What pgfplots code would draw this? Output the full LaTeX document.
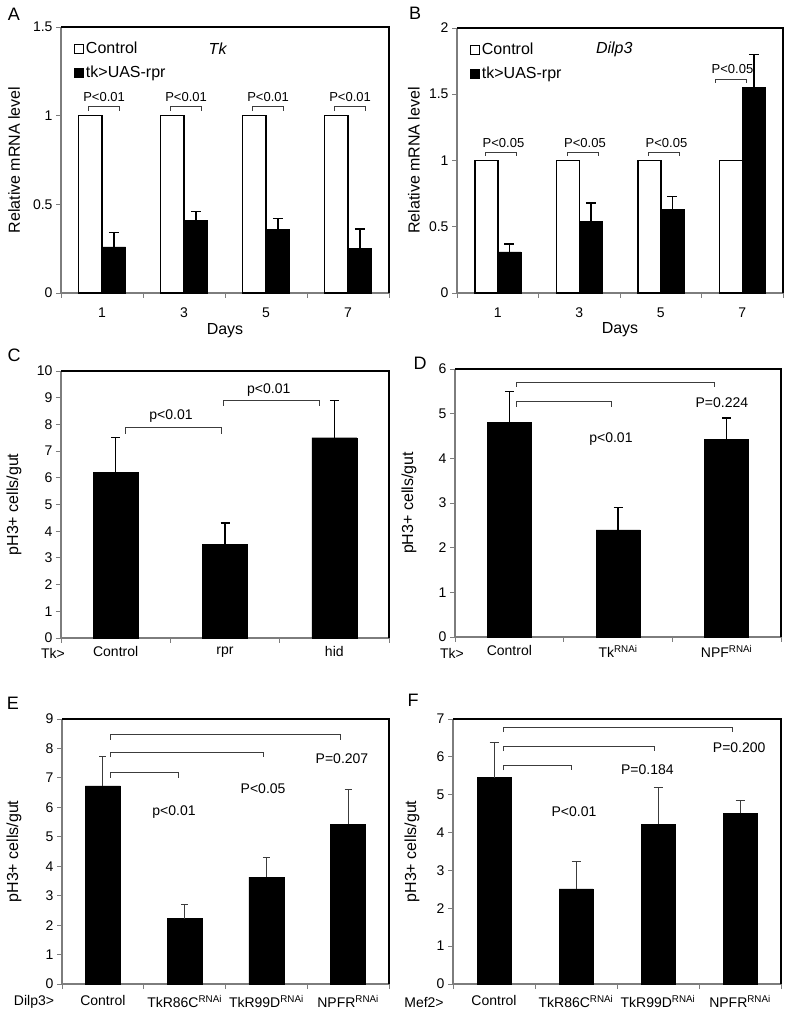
\documentclass[border=0pt]{standalone}
\usepackage{pgfplots}
\pgfplotsset{compat=1.18}
\usepackage{fontspec}
\setmainfont{Liberation Sans}
\definecolor{axgray}{RGB}{125,125,125}
\definecolor{brk}{RGB}{60,60,60}
\newcommand{\fs}[1]{\fontsize{#1}{#1}\selectfont}
\pgfplotsset{
 panel/.style={
   scale only axis, anchor=south west, clip=false,
   axis lines*=left,
   axis line style={draw=axgray, line width=1.2pt},
   tick align=outside,
   major tick length=5pt, minor tick length=5pt,
   ytick style={draw=axgray, line width=0.8pt},
   major x tick style={draw=none},
   minor x tick style={draw=axgray, line width=0.8pt},
   ymin=0, xmin=-0.5,
   tick label style={font=\fs{14}},
   /pgf/number format/assume math mode=true,
   label style={font=\fs{16}},
   ylabel style={anchor=center},
   after end axis/.code={\draw[black, line width=1.6pt] (rel axis cs:0,1) -- (rel axis cs:1,1) -- (rel axis cs:1,0);},
 },
 errb/.style={error bars/.cd, y dir=plus, y explicit,
   error bar style={line width=1.5pt, black},
   error mark options={rotate=90, mark size=#1, line width=1.5pt, black}},
 errg/.style={error bars/.cd, y dir=plus, y explicit,
   error bar style={line width=1pt, brk},
   error mark options={rotate=90, mark size=#1, line width=1pt, brk}},
 legend image code/.code={\draw[#1] (0pt,-4.5pt) rectangle (9pt,4.5pt);},
}
\newcommand{\brk}[4]{\draw[brk, line width=0.9pt] (axis cs:#1,#4) -- (axis cs:#1,#3) -- (axis cs:#2,#3) -- (axis cs:#2,#4);}
\begin{document}
\begin{tikzpicture}
\useasboundingbox (0,0) rectangle (788pt,1016pt);
% ---------------- A
\begin{axis}[panel, at={(61pt,723pt)}, width=328pt, height=266pt,
  xmax=3.5, ymax=1.5, ytick={0,0.5,1,1.5},
  xtick={0,1,2,3}, xticklabels={1,3,5,7}, minor xtick={-0.5,0.5,1.5,2.5,3.5},
  xticklabel style={yshift=-6pt},
  xlabel={Days}, xlabel style={at={(axis description cs:0.5,-0.14)}, anchor=center},
  ylabel={Relative mRNA level}, ylabel style={at={(axis description cs:-0.143,0.5)}},
  legend style={at={(0.035,0.955)}, anchor=north west, draw=none, fill=none, font=\fs{16}, row sep=7pt, inner sep=1pt},
  legend cell align=left]
\addlegendimage{fill=white, draw=black, line width=1.3pt}
\addlegendentry{Control}
\addlegendimage{fill=black, draw=black}
\addlegendentry{tk>UAS-rpr}
\addplot[ybar, bar width=23.5pt, bar shift=0pt, fill=white, draw=black, line width=1.5pt, forget plot]
  coordinates {(-0.1433,1) (0.8567,1) (1.8567,1) (2.8567,1)};
\addplot[ybar, bar width=23.5pt, bar shift=0pt, fill=black, draw=black, forget plot, errb=5pt]
  coordinates {(0.1433,0.26) +- (0,0.08) (1.1433,0.41) +- (0,0.05) (2.1433,0.36) +- (0,0.06) (3.1433,0.25) +- (0,0.11)};
\foreach \k in {0,1,2,3} {
  \edef\tmp{\noexpand\brk{\k-0.16}{\k+0.21}{1.05}{1.025}
  \noexpand\node[font=\noexpand\fs{13}] at (axis cs:\k+0.025,1.105) {P<0.01};}
  \tmp
}
\node[font=\fs{16}\itshape] at (axis cs:1.41,1.38) {Tk};
\end{axis}
% ---------------- B
\begin{axis}[panel, at={(457pt,723pt)}, width=326pt, height=265pt,
  xmax=3.5, ymax=2, ytick={0,0.5,1,1.5,2},
  xtick={0,1,2,3}, xticklabels={1,3,5,7}, minor xtick={-0.5,0.5,1.5,2.5,3.5},
  xticklabel style={yshift=-6pt},
  xlabel={Days}, xlabel style={at={(axis description cs:0.5,-0.14)}, anchor=center},
  ylabel={Relative mRNA level}, ylabel style={at={(axis description cs:-0.132,0.5)}},
  legend style={at={(0.035,0.955)}, anchor=north west, draw=none, fill=none, font=\fs{16}, row sep=7pt, inner sep=1pt},
  legend cell align=left]
\addlegendimage{fill=white, draw=black, line width=1.3pt}
\addlegendentry{Control}
\addlegendimage{fill=black, draw=black}
\addlegendentry{tk>UAS-rpr}
\addplot[ybar, bar width=23pt, bar shift=0pt, fill=white, draw=black, line width=1.5pt, forget plot]
  coordinates {(-0.1411,1) (0.8589,1) (1.8589,1) (2.8589,1)};
\addplot[ybar, bar width=23pt, bar shift=0pt, fill=black, draw=black, forget plot, errb=5pt]
  coordinates {(0.1411,0.31) +- (0,0.06) (1.1411,0.54) +- (0,0.14) (2.1411,0.63) +- (0,0.10) (3.1411,1.55) +- (0,0.25)};
\foreach \k in {0,1,2} {
  \edef\tmp{\noexpand\brk{\k-0.15}{\k+0.23}{1.064}{1.034}
  \noexpand\node[font=\noexpand\fs{13}] at (axis cs:\k+0.07,1.135) {P<0.05};}
  \tmp
}
\brk{2.67}{3.05}{1.615}{1.585}
\node[font=\fs{13}] at (axis cs:2.88,1.69) {P<0.05};
\node[font=\fs{16}\itshape] at (axis cs:1.43,1.84) {Dilp3};
\end{axis}
% ---------------- C
\begin{axis}[panel, at={(61pt,378pt)}, width=328pt, height=267pt,
  xmax=2.5, ymax=10, ytick={0,1,...,10},
  xtick={0,1,2}, xticklabels={Control,rpr,hid}, minor xtick={-0.5,0.5,1.5,2.5},
  xticklabel style={yshift=0pt},
  ylabel={pH3+ cells/gut}, ylabel style={at={(axis description cs:-0.143,0.5)}}]
\addplot[ybar, bar width=45pt, bar shift=0pt, fill=black, draw=black, errb=4.5pt]
  coordinates {(0,6.2) +- (0,1.3) (1,3.5) +- (0,0.8) (2,7.5) +- (0,1.4)};
\brk{0.086}{0.964}{7.87}{7.65}
\node[font=\fs{14}] at (axis cs:0.506,8.3) {p<0.01};
\brk{0.982}{1.86}{8.9}{8.7}
\node[font=\fs{14}] at (axis cs:1.40,9.3) {p<0.01};
\end{axis}
\node[font=\fs{14}] at (53pt,363pt) {Tk>};
% ---------------- D
\begin{axis}[panel, at={(455pt,379pt)}, width=326pt, height=268pt,
  xmax=2.5, ymax=6, ytick={0,1,...,6},
  xtick={0,1,2}, xticklabels={Control,Tk\textsuperscript{RNAi},NPF\textsuperscript{RNAi}}, minor xtick={-0.5,0.5,1.5,2.5},
  xticklabel style={yshift=0pt},
  ylabel={pH3+ cells/gut}, ylabel style={at={(axis description cs:-0.141,0.5)}}]
\addplot[ybar, bar width=44pt, bar shift=0pt, fill=black, draw=black, errb=4.5pt]
  coordinates {(0,4.8) +- (0,0.7) (1,2.4) +- (0,0.5) (2,4.43) +- (0,0.47)};
\brk{0.07}{1.89}{5.7}{5.6}
\brk{0.07}{0.944}{5.28}{5.15}
\node[font=\fs{14}] at (axis cs:1.956,5.25) {P=0.224};
\node[font=\fs{14}] at (axis cs:0.935,4.43) {p<0.01};
\end{axis}
\node[font=\fs{14}] at (452pt,363pt) {Tk>};
% ---------------- E
\begin{axis}[panel, at={(62pt,32pt)}, width=327pt, height=265pt,
  xmax=3.5, ymax=9, ytick={0,1,...,9},
  xtick={0,1,2,3}, xticklabels={Control,TkR86C\textsuperscript{RNAi},TkR99D\textsuperscript{RNAi},NPFR\textsuperscript{RNAi}}, minor xtick={-0.5,0.5,1.5,2.5,3.5},
  xticklabel style={yshift=-3pt},
  ylabel={pH3+ cells/gut}, ylabel style={at={(axis description cs:-0.147,0.5)}}]
\addplot[ybar, bar width=35pt, bar shift=0pt, fill=black, draw=black, errg=3.5pt]
  coordinates {(0,6.73) +- (0,0.98) (1,2.22) +- (0,0.49) (2,3.63) +- (0,0.68) (3,5.43) +- (0,1.19)};
\brk{0.087}{2.91}{8.47}{8.3}
\brk{0.087}{1.96}{7.85}{7.7}
\brk{0.087}{0.93}{7.18}{7.0}
\node[font=\fs{14}] at (axis cs:2.925,7.65) {P=0.207};
\node[font=\fs{14}] at (axis cs:1.96,6.63) {P<0.05};
\node[font=\fs{14}] at (axis cs:0.87,5.85) {p<0.01};
\end{axis}
\node[font=\fs{14}] at (34pt,14pt) {Dilp3>};
% ---------------- F
\begin{axis}[panel, at={(453pt,32pt)}, width=328pt, height=265pt,
  xmax=3.5, ymax=7, ytick={0,1,...,7},
  xtick={0,1,2,3}, xticklabels={Control,TkR86C\textsuperscript{RNAi},TkR99D\textsuperscript{RNAi},NPFR\textsuperscript{RNAi}}, minor xtick={-0.5,0.5,1.5,2.5,3.5},
  xticklabel style={yshift=-3pt},
  ylabel={pH3+ cells/gut}, ylabel style={at={(axis description cs:-0.125,0.5)}}]
\addplot[ybar, bar width=34pt, bar shift=0pt, fill=black, draw=black, errg=4.5pt]
  coordinates {(0,5.45) +- (0,0.92) (1,2.51) +- (0,0.72) (2,4.22) +- (0,0.97) (3,4.51) +- (0,0.33)};
\brk{0.11}{2.91}{6.78}{6.65}
\brk{0.11}{1.96}{6.28}{6.15}
\brk{0.11}{0.94}{5.78}{5.65}
\node[font=\fs{14}] at (axis cs:2.99,6.25) {P=0.200};
\node[font=\fs{14}] at (axis cs:1.87,5.65) {P=0.184};
\node[font=\fs{14}] at (axis cs:0.976,4.56) {P<0.01};
\end{axis}
\node[font=\fs{14}] at (424pt,13pt) {Mef2>};
% panel letters
\node[font=\fs{18}] at (14pt,1002pt) {A};
\node[font=\fs{18}] at (415pt,1003pt) {B};
\node[font=\fs{18}] at (14pt,661pt) {C};
\node[font=\fs{18}] at (420pt,653pt) {D};
\node[font=\fs{18}] at (13pt,313pt) {E};
\node[font=\fs{18}] at (413pt,316pt) {F};
\end{tikzpicture}
\end{document}
